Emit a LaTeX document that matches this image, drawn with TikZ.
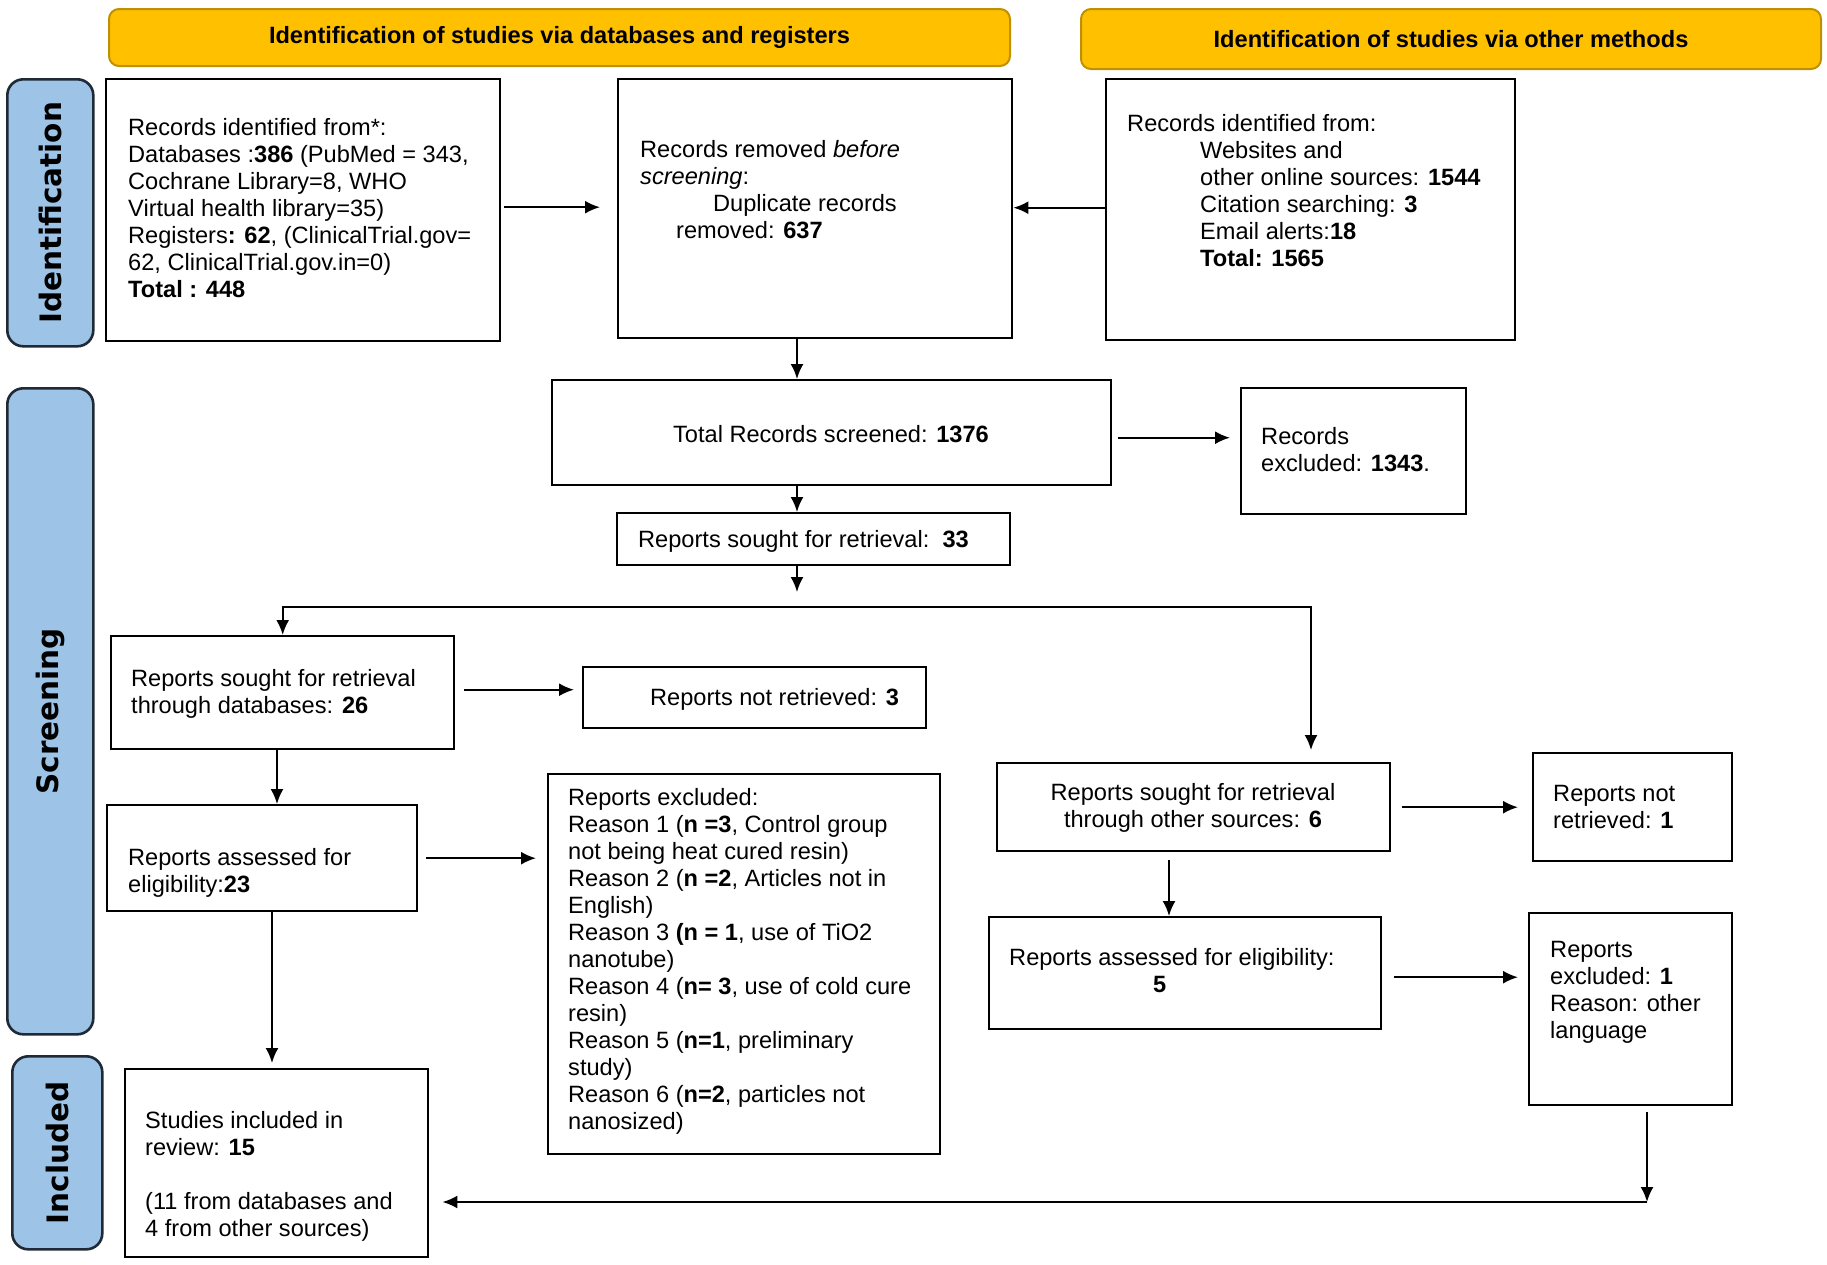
\documentclass[tikz,border=0pt]{standalone}
\usepackage{fontspec}
\setmainfont{Liberation Sans}
\newfontfamily\sidefont{DejaVu Sans}
\usetikzlibrary{arrows.meta}
\definecolor{hdrfill}{HTML}{FFC000}
\definecolor{hdrline}{HTML}{BF9000}
\definecolor{sidefill}{HTML}{9DC3E6}
\definecolor{sideline}{HTML}{1F2A36}
\newcommand{\tlines}[1]{\parbox[t]{600pt}{#1}}
\begin{document}
\begin{tikzpicture}[x=1pt,y=-1pt,
  every node/.style={font=\fontsize{23.6}{27}\selectfont},
  box/.style={draw=black, line width=2.4pt, anchor=north west, inner sep=0pt},
  hdr/.style={draw=hdrline, fill=hdrfill, line width=2pt, rounded corners=10pt, anchor=north west, inner sep=0pt, font=\fontsize{23.6}{27}\selectfont\bfseries},
  side/.style={draw=sideline, fill=sidefill, line width=2.6pt, rounded corners=16pt, anchor=north west, inner sep=0pt},
  sidetext/.style={rotate=90, inner sep=0pt, font=\fontsize{29.5}{32}\selectfont\sidefont\bfseries},
  txt/.style={anchor=base west, inner sep=0pt},
  ctxt/.style={anchor=base, inner sep=0pt},
  arr/.style={line width=2pt, -{Latex[length=15pt,width=13pt]}},
  arrtwo/.style={line width=2pt, {Latex[length=15pt,width=13pt]}-{Latex[length=15pt,width=13pt]}},
]
\useasboundingbox (0,0) rectangle (1827,1264);

% headers
\node[hdr, minimum width=901pt, minimum height=57pt] (h1) at (108,8) {Identification of studies via databases and registers};
\node[hdr, minimum width=740pt, minimum height=60pt] (h2) at (1080,8) {Identification of studies via other methods};

% side labels
\node[side, minimum width=86pt, minimum height=267pt] (sI) at (6,78) {};
\node[sidetext] (sIt) at (sI.center) {Identification};
\node[side, minimum width=86pt, minimum height=646pt] (sS) at (6,387) {};
\node[sidetext] (sSt) at (sS.center) {Screening};
\node[side, minimum width=90pt, minimum height=193pt] (sN) at (11,1055) {};
\node[sidetext] (sNt) at (sN.center) {Included};

% boxes
\node[box, minimum width=394pt, minimum height=262pt] (A) at (105,78) {};
\node[box, minimum width=394pt, minimum height=259pt] (B) at (617,78) {};
\node[box, minimum width=409pt, minimum height=261pt] (C) at (1105,78) {};
\node[box, minimum width=559pt, minimum height=105pt] (D) at (551,379) {};
\node[box, minimum width=225pt, minimum height=126pt] (E) at (1240,387) {};
\node[box, minimum width=393pt, minimum height=52pt] (F) at (616,512) {};
\node[box, minimum width=343pt, minimum height=113pt] (G) at (110,635) {};
\node[box, minimum width=343pt, minimum height=61pt] (H) at (582,666) {};
\node[box, minimum width=310pt, minimum height=106pt] (I) at (106,804) {};
\node[box, minimum width=392pt, minimum height=380pt] (K) at (547,773) {};
\node[box, minimum width=303pt, minimum height=188pt] (L) at (124,1068) {};
\node[box, minimum width=393pt, minimum height=88pt] (J) at (996,762) {};
\node[box, minimum width=199pt, minimum height=108pt] (M) at (1532,752) {};
\node[box, minimum width=392pt, minimum height=112pt] (O) at (988,916) {};
\node[box, minimum width=203pt, minimum height=192pt] (N) at (1528,912) {};

% texts
\node[txt] (tA) at (128,135) {\tlines{Records identified from*:\\
Databases :\textbf{386} (PubMed = 343,\\
Cochrane Library=8, WHO\\
Virtual health library=35)\\
Registers\textbf{: 62}, (ClinicalTrial.gov=\\
62, ClinicalTrial.gov.in=0)\\
\textbf{Total : 448}}};
\node[txt] (tB) at (640,157) {\tlines{Records removed \textit{before}\\
\textit{screening}:\\
\hspace*{73pt}Duplicate records\\
\hspace*{36pt}removed: \textbf{637}}};
\node[txt] (tC) at (1127,131) {\tlines{Records identified from:\\
\hspace*{73pt}Websites and\\
\hspace*{73pt}other online sources: \textbf{1544}\\
\hspace*{73pt}Citation searching: \textbf{3}\\
\hspace*{73pt}Email alerts:\textbf{18}\\
\hspace*{73pt}\textbf{Total: 1565}}};
\node[ctxt] (tD) at (831,442) {Total Records screened: \textbf{1376}};
\node[txt] (tE) at (1261,444) {\tlines{Records\\ excluded: \textbf{1343}.}};
\node[txt] (tF) at (638,547) {Reports sought for retrieval:\ \ \textbf{33}};
\node[txt] (tG) at (131,686) {\tlines{Reports sought for retrieval\\ through databases: \textbf{26}}};
\node[txt] (tH) at (650,705) {Reports not retrieved: \textbf{3}};
\node[txt] (tI) at (128,865) {\tlines{Reports assessed for\\ eligibility:\textbf{23}}};
\node[txt] (tK) at (568,805) {\tlines{Reports excluded:\\
Reason 1 (\textbf{n =3}, Control group\\
not being heat cured resin)\\
Reason 2 (\textbf{n =2}, Articles not in\\
English)\\
Reason 3 \textbf{(n = 1}, use of TiO2\\
nanotube)\\
Reason 4 (\textbf{n= 3}, use of cold cure\\
resin)\\
Reason 5 (\textbf{n=1}, preliminary\\
study)\\
Reason 6 (\textbf{n=2}, particles not\\
nanosized)}};
\node[txt] (tL) at (145,1128) {\tlines{Studies included in\\ review: \textbf{15}\\[27pt]
(11 from databases and\\ 4 from other sources)}};
\node[ctxt] (tJ) at (1193,800) {\parbox[t]{420pt}{\centering Reports sought for retrieval\\ through other sources: \textbf{6}}};
\node[txt] (tM) at (1553,801) {\tlines{Reports not\\ retrieved: \textbf{1}}};
\node[txt] (tO) at (1009,965) {\tlines{Reports assessed for eligibility:\\ \hspace*{144pt}\textbf{5}}};
\node[txt] (tN) at (1550,957) {\tlines{Reports\\ excluded: \textbf{1}\\ Reason: other\\ language}};

% connectors
\coordinate (vx) at (797,0);
\coordinate (fs) at (797,592);
\coordinate (sp) at (0,607);
\coordinate (jr) at (1311,750);
\coordinate (gx) at (277,0);
\coordinate (ix) at (272,0);
\coordinate (jx) at (1169,0);
\coordinate (cn) at (1647,1202);

\draw[arr, shorten <=3pt, shorten >=17pt] ([yshift=3pt]A.east) -- ([yshift=3pt]A.east -| B.west);
\draw[arr] ([yshift=2pt]C.west) -- ([yshift=2pt]C.west -| B.east);
\draw[arr] (vx |- B.south) -- (vx |- D.north);
\draw[arr, shorten <=6pt, shorten >=10pt] ([yshift=-5pt]D.east) -- ([yshift=-5pt]D.east -| E.west);
\draw[arr] (vx |- D.south) -- (vx |- F.north);
\draw[arr] (vx |- F.south) -- (fs);
\draw[arrtwo] (G.north) |- (sp -| jr) -- (jr);
\draw[arr, shorten <=9pt, shorten >=8pt] ([yshift=3pt]G.east) -- ([yshift=3pt]G.east -| H.west);
\draw[arr] (gx |- G.south) -- (gx |- I.north);
\draw[arr, shorten <=8pt, shorten >=11pt] (I.east) -- (I.east -| K.west);
\draw[arr, shorten >=5pt] (ix |- I.south) -- (ix |- L.north);
\draw[arr, shorten <=11pt, shorten >=14pt] (J.east) -- (J.east -| M.west);
\draw[arr, shorten <=8pt] (jx |- J.south) -- (jx |- O.north);
\draw[arr, shorten <=12pt, shorten >=10pt] ([yshift=-4pt]O.east) -- ([yshift=-4pt]O.east -| N.west);
\draw[arr, shorten <=6pt] (cn |- N.south) -- (cn);
\draw[arr, shorten >=13pt] (cn) -- (cn -| L.east);
\end{tikzpicture}
\end{document}
